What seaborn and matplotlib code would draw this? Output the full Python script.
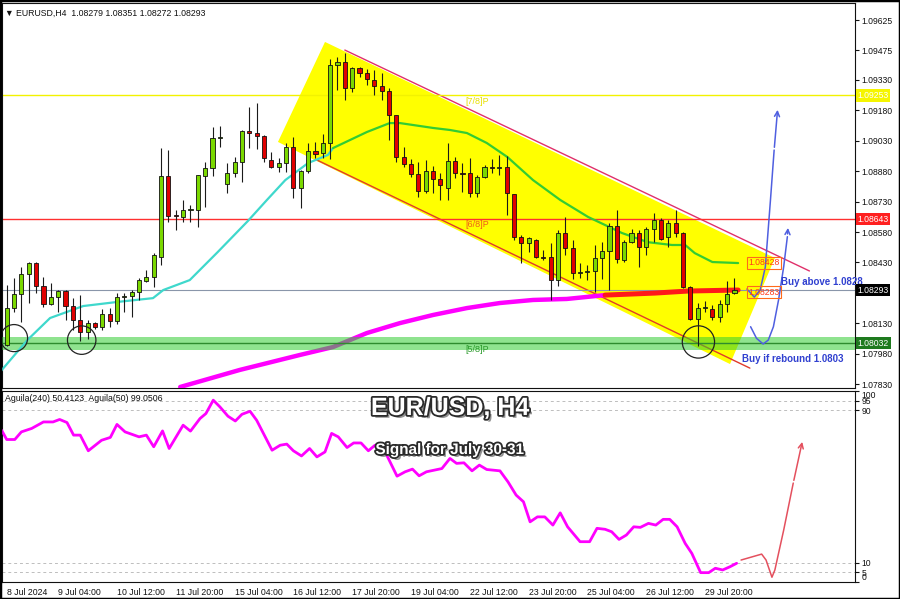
import matplotlib
matplotlib.use("Agg")
import matplotlib.pyplot as plt
import matplotlib.patheffects as pe
from matplotlib.patches import Polygon, Rectangle
import numpy as np
import pandas as pd
import seaborn as sns

sns.set_style("white")
plt.rcParams["font.family"] = ["Liberation Sans", "DejaVu Sans"]

# ==============================================================================
# DATA  (EURUSD H4, 8 Jul - 30 Jul 2024)
# ==============================================================================
opens = [1.08023, 1.08205, 1.08274, 1.08373, 1.08427, 1.08314, 1.08225, 1.08259, 1.08289, 1.08215,
         1.08146, 1.08087, 1.08131, 1.08112, 1.08176, 1.08141, 1.08259, 1.08264, 1.08284, 1.08338,
         1.08358, 1.08457, 1.08856, 1.08664, 1.08654, 1.08688, 1.08688, 1.08856, 1.08895, 1.09043,
         1.08816, 1.08871, 1.08925, 1.09078, 1.09068, 1.09053, 1.08935, 1.08900, 1.08920, 1.08999,
         1.08797, 1.08881, 1.08979, 1.08969, 1.09019, 1.09403, 1.09418, 1.09290, 1.09388, 1.09364,
         1.09329, 1.09300, 1.09275, 1.09157, 1.08950, 1.08915, 1.08866, 1.08782, 1.08881, 1.08841,
         1.08797, 1.08930, 1.08871, 1.08871, 1.08772, 1.08851, 1.08900, 1.08895, 1.08900, 1.08767,
         1.08555, 1.08526, 1.08540, 1.08457, 1.08457, 1.08343, 1.08575, 1.08501, 1.08378, 1.08383,
         1.08388, 1.08452, 1.08486, 1.08610, 1.08442, 1.08530, 1.08575, 1.08506, 1.08595, 1.08639,
         1.08555, 1.08624, 1.08575, 1.08309, 1.08151, 1.08205, 1.08200, 1.08161, 1.08225, 1.08279]
highs = [1.08319, 1.08353, 1.08407, 1.08432, 1.08432, 1.08358, 1.08328, 1.08294, 1.08294, 1.08255,
         1.08269, 1.08146, 1.08136, 1.08200, 1.08205, 1.08279, 1.08279, 1.08294, 1.08353, 1.08392,
         1.08476, 1.08994, 1.08984, 1.08688, 1.08738, 1.08713, 1.08861, 1.08925, 1.09098, 1.09102,
         1.08920, 1.08950, 1.09083, 1.09196, 1.09216, 1.09058, 1.08974, 1.08945, 1.09019, 1.09048,
         1.08886, 1.09019, 1.09024, 1.09063, 1.09433, 1.09443, 1.09462, 1.09393, 1.09393, 1.09383,
         1.09379, 1.09364, 1.09290, 1.09157, 1.08999, 1.08940, 1.08925, 1.08935, 1.08905, 1.08871,
         1.09019, 1.08950, 1.08920, 1.08945, 1.08861, 1.08910, 1.08940, 1.08960, 1.08955, 1.08767,
         1.08565, 1.08555, 1.08545, 1.08491, 1.08526, 1.08590, 1.08654, 1.08540, 1.08427, 1.08417,
         1.08516, 1.08530, 1.08624, 1.08688, 1.08540, 1.08595, 1.08590, 1.08605, 1.08674, 1.08649,
         1.08639, 1.08688, 1.08580, 1.08314, 1.08230, 1.08240, 1.08220, 1.08245, 1.08338, 1.08351]
lows = [1.08020, 1.08185, 1.08136, 1.08230, 1.08279, 1.08210, 1.08220, 1.08185, 1.08146, 1.08097,
        1.08042, 1.08052, 1.08102, 1.08097, 1.08112, 1.08126, 1.08185, 1.08161, 1.08245, 1.08333,
        1.08309, 1.08417, 1.08629, 1.08590, 1.08629, 1.08629, 1.08605, 1.08703, 1.08856, 1.08999,
        1.08772, 1.08851, 1.08826, 1.08994, 1.08989, 1.08925, 1.08895, 1.08876, 1.08876, 1.08748,
        1.08698, 1.08871, 1.08945, 1.08945, 1.08940, 1.09280, 1.09231, 1.09270, 1.09344, 1.09305,
        1.09255, 1.09231, 1.09033, 1.08925, 1.08900, 1.08851, 1.08753, 1.08772, 1.08772, 1.08738,
        1.08738, 1.08846, 1.08777, 1.08753, 1.08753, 1.08846, 1.08871, 1.08861, 1.08664, 1.08540,
        1.08427, 1.08481, 1.08452, 1.08442, 1.08245, 1.08314, 1.08467, 1.08348, 1.08353, 1.08343,
        1.08284, 1.08348, 1.08294, 1.08427, 1.08432, 1.08526, 1.08407, 1.08467, 1.08530, 1.08540,
        1.08506, 1.08555, 1.08304, 1.08146, 1.08018, 1.08185, 1.08146, 1.08136, 1.08185, 1.08272]
closes = [1.08205, 1.08274, 1.08373, 1.08427, 1.08314, 1.08225, 1.08259, 1.08289, 1.08215, 1.08146,
          1.08087, 1.08131, 1.08112, 1.08176, 1.08141, 1.08259, 1.08264, 1.08284, 1.08343, 1.08358,
          1.08467, 1.08856, 1.08659, 1.08659, 1.08688, 1.08693, 1.08861, 1.08895, 1.09043, 1.09048,
          1.08871, 1.08925, 1.09078, 1.09068, 1.09053, 1.08945, 1.08900, 1.08920, 1.08999, 1.08797,
          1.08881, 1.08979, 1.08964, 1.09019, 1.09403, 1.09418, 1.09290, 1.09388, 1.09364, 1.09334,
          1.09300, 1.09275, 1.09157, 1.08950, 1.08915, 1.08866, 1.08782, 1.08881, 1.08841, 1.08812,
          1.08930, 1.08871, 1.08866, 1.08772, 1.08851, 1.08900, 1.08895, 1.08900, 1.08772, 1.08555,
          1.08526, 1.08550, 1.08457, 1.08452, 1.08343, 1.08575, 1.08501, 1.08378, 1.08383, 1.08388,
          1.08452, 1.08486, 1.08610, 1.08447, 1.08530, 1.08575, 1.08506, 1.08595, 1.08639, 1.08545,
          1.08624, 1.08575, 1.08309, 1.08151, 1.08205, 1.08210, 1.08161, 1.08225, 1.08274, 1.08293]

date_ticks = [0, 7, 15, 23, 31, 39, 47, 55, 63, 71, 79, 87, 95]
date_labels = ["8 Jul 2024", "9 Jul 04:00", "10 Jul 12:00", "11 Jul 20:00", "15 Jul 04:00",
               "16 Jul 12:00", "17 Jul 20:00", "19 Jul 04:00", "22 Jul 12:00", "23 Jul 20:00",
               "25 Jul 04:00", "26 Jul 12:00", "29 Jul 20:00"]

price_ticks = [1.09625, 1.09475, 1.09330, 1.09180, 1.09030, 1.08880, 1.08730,
               1.08580, 1.08430, 1.08130, 1.07980, 1.07830]

# 20-period moving average (cyan until the breakout, then green)
ma_fast_x = [-0.9, 2.8, 5.9, 10.4, 15.0, 19.9, 21.3, 24.9, 28.7, 32.8, 35.4, 37.9, 41.0, 43.7,
             44.4, 49.0, 52.1, 53.5, 58.0, 60.3, 62.6, 65.3, 68.1, 71.6, 75.3, 79.1, 83.7,
             87.2, 90.5, 92.3, 93.6, 96.0, 99.5]
ma_fast_y = [1.07890, 1.08047, 1.08156, 1.08215, 1.08235, 1.08254, 1.08294, 1.08343, 1.08481,
             1.08634, 1.08738, 1.08836, 1.08920, 1.08960,
             1.08994, 1.09073, 1.09117, 1.09117, 1.09093, 1.09083, 1.09068, 1.09019, 1.08950,
             1.08836, 1.08738, 1.08654, 1.08575, 1.08530, 1.08516, 1.08516, 1.08476, 1.08432,
             1.08427]
ma_fast_split = 14
ma_fast_last = 1.08428

# 200-period moving average (magenta, red on the last days)
ma_slow_x = [23.6, 31.7, 39.9, 44.4, 49.0, 53.5, 58.0, 62.6, 67.1, 71.6, 76.2, 81.4,
             88.2, 92.7, 99.5]
ma_slow_y = [1.07816, 1.07900, 1.07974, 1.08013, 1.08082, 1.08131, 1.08171, 1.08205,
             1.08230, 1.08245, 1.08250, 1.08269, 1.08279, 1.08289, 1.08294]
ma_slow_split = 11
ma_slow_last = 1.08283

# Aguila oscillator
osc_x = [-0.7, 0.0, 1.1, 2.0, 3.4, 5.0, 6.3, 7.2, 8.2, 9.1, 10.0, 11.1, 12.9, 14.1, 15.0,
         16.1, 18.0, 19.0, 20.0, 21.2, 22.1, 24.0, 25.0, 26.3, 27.1, 28.1, 29.0, 30.1, 31.1,
         32.0, 33.1, 34.0, 36.1, 37.2, 38.1, 39.0, 40.1, 41.2, 42.2, 43.3, 44.2, 45.1, 46.3,
         47.2, 48.2, 49.2, 50.1, 51.7, 53.1, 54.2, 55.2, 56.1, 57.1, 59.2, 60.3, 61.2, 62.2,
         63.3, 64.3, 65.3, 67.1, 68.2, 69.3, 70.3, 71.2, 72.2, 73.2, 74.3, 75.3, 76.3, 78.0,
         79.3, 80.3, 81.4, 82.3, 83.3, 84.3, 85.3, 86.2, 87.3, 88.3, 89.3, 90.2, 91.2, 92.3,
         93.2, 94.4, 95.5, 96.4, 97.4, 98.4, 99.3]
osc_y = [79.5, 74.6, 74.6, 78.6, 80.4, 83.8, 83.8, 85.1, 83.5, 76.9, 76.9, 68.7, 74.2, 75.7,
         82.5, 78.6, 76.0, 76.9, 70.8, 79.1, 69.9, 82.1, 79.0, 85.6, 88.2, 95.2, 91.7, 86.8,
         84.3, 87.8, 89.4, 84.7, 69.0, 71.6, 72.2, 68.7, 66.0, 69.9, 65.5, 68.1, 77.8, 76.0,
         70.4, 72.8, 72.8, 68.7, 71.6, 66.4, 55.4, 57.7, 59.1, 55.6, 57.7, 59.4, 64.7, 62.1,
         62.4, 58.2, 61.2, 58.9, 58.2, 52.4, 45.5, 42.0, 31.5, 34.1, 34.1, 29.8, 36.2, 28.9,
         21.1, 21.1, 28.1, 27.6, 26.3, 22.3, 24.6, 28.9, 28.6, 30.7, 29.8, 32.8, 32.8, 28.9,
         20.2, 15.0, 4.9, 4.9, 7.2, 6.3, 8.0, 9.8]
osc_levels = [5, 10, 90, 95]

# Murrey math levels and last price
level_78 = 1.09253
level_68 = 1.08643
level_58 = 1.08032
last_price = 1.08293

# descending channel
channel_x = [36.9, 43.3, 104.5, 98.4]
channel_y = [1.09024, 1.09517, 1.08452, 1.07929]
upper_x, upper_y = [46.0, 109.2], [1.09477, 1.08388]
lower_x, lower_y = [42.2, 101.1], [1.08935, 1.07909]

# touched supports
circle_x = [1.0, 10.2, 94.1]
circle_y = [1.08057, 1.08047, 1.08038]

# hand drawn scenarios
path_above_x = [100.7, 101.7, 102.5, 103.2, 103.9, 104.4, 104.9]
path_above_y = [1.08299, 1.08259, 1.08294, 1.08407, 1.08738, 1.08984, 1.09196]
path_rebound_x = [101.2, 102.0, 102.9, 103.6, 104.3, 105.0, 105.7, 106.2, 106.3]
path_rebound_y = [1.08113, 1.08056, 1.08028, 1.08047, 1.08113, 1.08245, 1.08409, 1.08557, 1.08614]
osc_path_x = [99.9, 102.7, 103.3, 104.1, 104.5, 105.7, 107.0, 108.3]
osc_path_y = [11.5, 14.6, 11.5, 2.5, 6.3, 27.2, 51.8, 74.8]

GREEN = "#7ad800"
RED = "#e00000"
BLUE = "#4f5fe0"

# ==============================================================================
# FIGURE
# ==============================================================================
fig = plt.figure(figsize=(9, 5.99), dpi=100)
ax = fig.add_axes([2 / 900, 1 - 388 / 599, 853 / 900, 385 / 599])
ax2 = fig.add_axes([2 / 900, 1 - 582 / 599, 853 / 900, 191 / 599])

xlim = (-0.64, 115.4)

# ---- main pane -------------------------------------------------------------
ax.add_patch(Polygon(np.column_stack([channel_x, channel_y]), closed=True,
                     facecolor="#ffff00", edgecolor="none", zorder=1))
ax.plot(upper_x, upper_y, color="#e0306a", lw=1.0, zorder=2)
ax.plot(lower_x, lower_y, color="#e03a2a", lw=1.0, zorder=2)

ax.axhline(level_78, color="#f2f200", lw=1.0, zorder=2)
ax.axhline(level_68, color="#ff3030", lw=1.0, zorder=2)
ax.axhline(last_price, color="#8a96aa", lw=0.8, zorder=2)

ax.text(64, level_78 - 0.00005, "[7/8]P", color="#e8e000", fontsize=6.5, ha="center", va="top", zorder=3)
ax.text(64, level_68 - 0.00005, "[6/8]P", color="#f05a1a", fontsize=6.5, ha="center", va="top", zorder=3)
ax.text(64, level_58 - 0.00010, "[5/8]P", color="#2a9a2a", fontsize=6.5, ha="center", va="top", zorder=5)

slow = pd.DataFrame({"bar": ma_slow_x, "price": ma_slow_y})
sns.lineplot(data=slow.iloc[:ma_slow_split + 1], x="bar", y="price", ax=ax,
             color="#ff00ff", lw=3.2, estimator=None, sort=False, zorder=3)
sns.lineplot(data=slow.iloc[ma_slow_split:], x="bar", y="price", ax=ax,
             color="#ff1a1a", lw=3.6, estimator=None, sort=False, zorder=3)

ax.axhspan(level_58 - 0.00032, level_58 + 0.00030, color="#33cc33", alpha=0.55, lw=0, zorder=4)
ax.axhline(level_58, color="#2e8b2e", lw=1.0, zorder=4)

fast = pd.DataFrame({"bar": ma_fast_x, "price": ma_fast_y})
sns.lineplot(data=fast.iloc[:ma_fast_split + 1], x="bar", y="price", ax=ax,
             color="#3fd8cc", lw=1.6, estimator=None, sort=False, zorder=4)
sns.lineplot(data=fast.iloc[ma_fast_split:], x="bar", y="price", ax=ax,
             color="#33cc33", lw=1.6, estimator=None, sort=False, zorder=4)

# candles
o, h, l, c = map(np.array, (opens, highs, lows, closes))
idx = np.arange(len(o))
up = c >= o
body_h = np.maximum(np.abs(c - o), 0.00004)
body_lo = np.minimum(o, c)
ax.vlines(idx, l, h, color="#1a1a1a", lw=0.8, zorder=5)
ax.bar(idx, body_h, bottom=body_lo, width=0.56, color=np.where(up, GREEN, RED),
       edgecolor="#111111", linewidth=0.6, zorder=6)

ax.scatter(circle_x, circle_y, s=[380, 420, 540], facecolors="none",
           edgecolors="#222222", linewidths=0.9, zorder=8)

# scenario arrows
for px, py in ((path_above_x, path_above_y), (path_rebound_x, path_rebound_y)):
    ax.plot(px[:-1], py[:-1], color=BLUE, lw=1.1, zorder=9)
    ax.annotate("", xy=(px[-1], py[-1]), xytext=(px[-2], py[-2]),
                arrowprops=dict(arrowstyle="->", color=BLUE, lw=1.1, mutation_scale=9), zorder=9)

ax.text(105.3, 1.08333, "Buy above 1.0828", color="#3040d0", fontsize=7, fontweight="bold",
        ha="left", va="center", zorder=10)
ax.text(100.0, 1.07954, "Buy if rebound 1.0803", color="#3040d0", fontsize=7, fontweight="bold",
        ha="left", va="center", zorder=10)

for val in (ma_fast_last, ma_slow_last):
    ax.text(100.9, val, f"{val:.5f}", color="#ff3a1a", fontsize=6.2, ha="left", va="center",
            zorder=10, bbox=dict(boxstyle="square,pad=0.15", fc="none", ec="#ff6a1a", lw=0.8))

ax.text(0.003, 0.985, "▼ EURUSD,H4  1.08279 1.08351 1.08272 1.08293", transform=ax.transAxes,
        fontsize=6.3, ha="left", va="top", color="#111111")

ax.set_xlim(*xlim)
ax.set_ylim(1.07811, 1.09709)
ax.set_xticks([])
ax.yaxis.tick_right()
ax.set_yticks(price_ticks, [f"{p:.5f}" for p in price_ticks])
ax.tick_params(axis="y", labelsize=6.2, length=3, pad=1.5, colors="#111111", direction="out")
ax.set_xlabel("")
ax.set_ylabel("")

for val, bg in ((level_78, "#f5f500"), (level_68, "#ff2020"), (last_price, "#000000"), (level_58, "#1e7a1e")):
    ax.text(1.003, val, f"{val:.5f}", transform=ax.get_yaxis_transform(), color="white",
            fontsize=6.2, ha="left", va="center", clip_on=False, zorder=11,
            bbox=dict(boxstyle="square,pad=0.2", fc=bg, ec="none"))

# ---- oscillator pane -----------------------------------------------------------
for lv in osc_levels:
    ax2.axhline(lv, color="#bdbdbd", lw=0.7, ls=(0, (3, 3)), zorder=1)
sns.lineplot(x=osc_x, y=osc_y, ax=ax2, color="#ff00ff", lw=2.0, estimator=None, sort=False, zorder=3)
ax2.plot(osc_path_x[:-1], osc_path_y[:-1], color="#e4505e", lw=1.1, zorder=4)
ax2.annotate("", xy=(osc_path_x[-1], osc_path_y[-1]), xytext=(osc_path_x[-2], osc_path_y[-2]),
             arrowprops=dict(arrowstyle="->", color="#e4505e", lw=1.1, mutation_scale=9), zorder=4)

ax2.text(0.003, 0.985, "Aguila(240) 50.4123  Aguila(50) 99.0506", transform=ax2.transAxes,
         fontsize=6.3, ha="left", va="top", color="#111111")

ax2.set_xlim(*xlim)
ax2.set_ylim(0, 100)
ax2.yaxis.tick_right()
osc_ticks = [0, 5, 10, 90, 95, 100]
ax2.set_yticks(osc_ticks, [str(t) for t in osc_ticks])
ax2.tick_params(axis="y", labelsize=6.2, length=3, pad=1.5, colors="#111111")
ylabels = ax2.get_yticklabels()
ylabels[0].set_va("bottom")
ylabels[-1].set_va("top")
ax2.set_xticks(date_ticks, date_labels)
ax2.tick_params(axis="x", labelsize=6.3, length=3, pad=1, colors="#111111")
for lab in ax2.get_xticklabels():
    lab.set_ha("left")
ax2.set_xlabel("")
ax2.set_ylabel("")

for a in (ax, ax2):
    for sp in a.spines.values():
        sp.set_color("#111111")
        sp.set_linewidth(0.8)

# ---- titles ------------------------------------------------------------------
fx = [pe.SimplePatchShadow(offset=(2, -2), shadow_rgbFace="#777777", alpha=0.8),
      pe.Stroke(linewidth=2.6, foreground="#2b2b2b"), pe.Normal()]
fig.text(0.5, 1 - 408 / 599, "EUR/USD, H4", ha="center", va="center", fontsize=18,
         fontweight="bold", color="white", path_effects=fx)
fig.text(0.5, 1 - 450 / 599, "Signal for July 30-31", ha="center", va="center", fontsize=11,
         fontweight="bold", color="white", path_effects=fx)

fig.patches.append(Rectangle((0, 0), 1, 1, transform=fig.transFigure, fill=False,
                             lw=2.5, edgecolor="black"))

fig.savefig("out.png", dpi=100)
plt.close(fig)
